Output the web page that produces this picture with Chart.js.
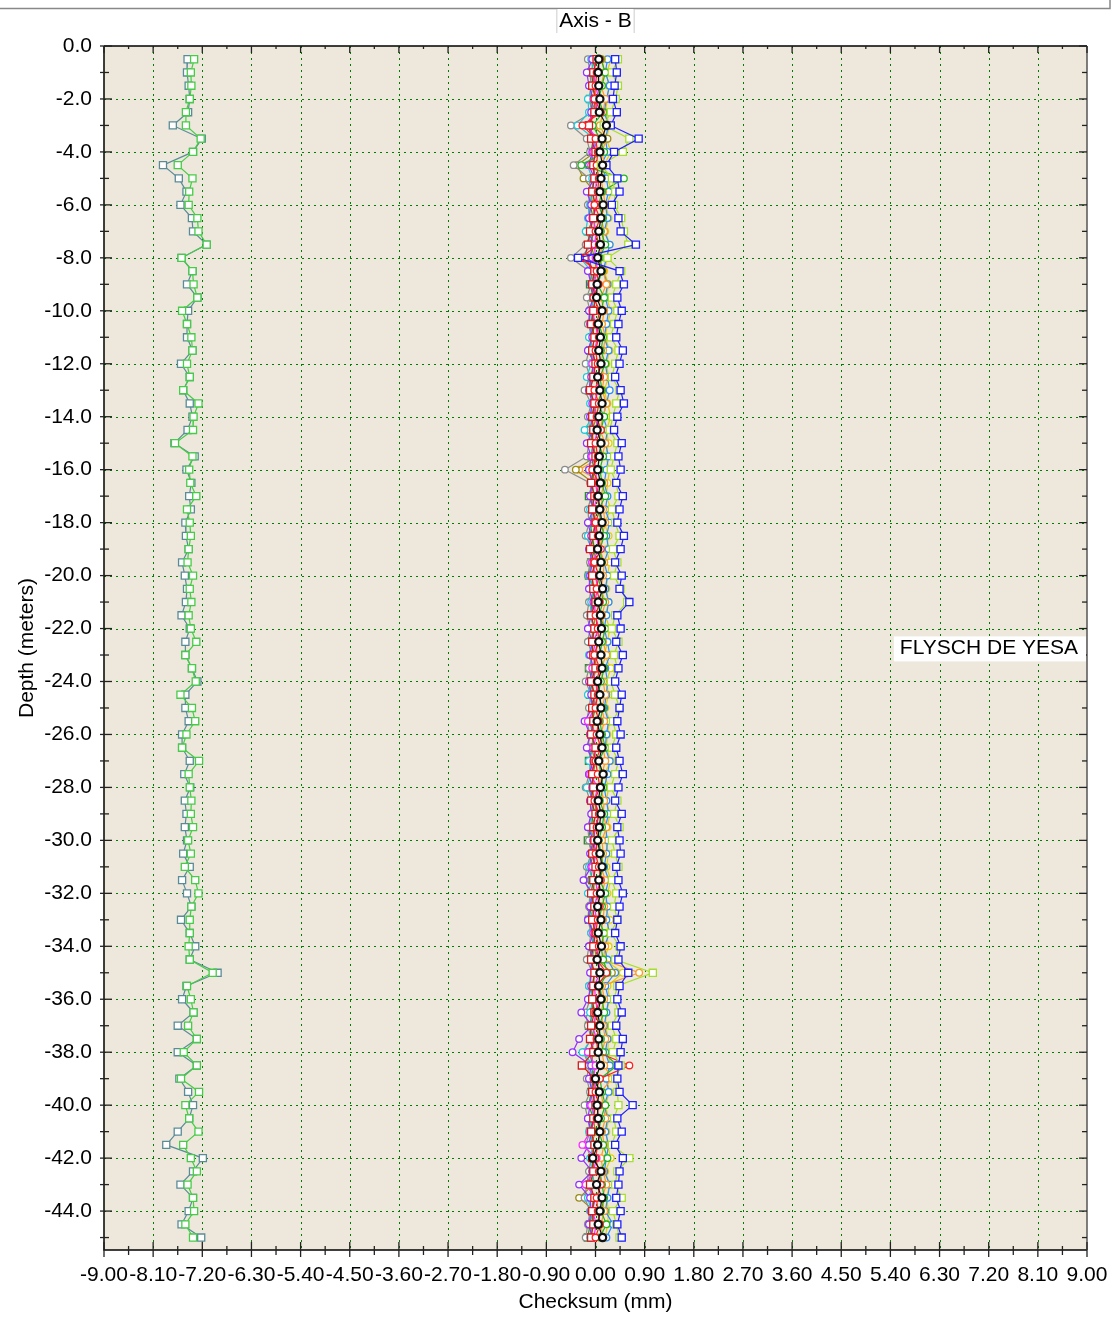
<!DOCTYPE html>
<html>
<head>
<meta charset="utf-8">
<title>Axis - B</title>
<script src="https://cdn.jsdelivr.net/npm/chart.js@4.4.1/dist/chart.umd.min.js"></script>
<style>
  html, body { margin: 0; padding: 0; background: #fff; }
  #wrap { position: relative; width: 1112px; height: 1317px; }
</style>
</head>
<body>
<div id="wrap"><canvas id="chart"></canvas></div>
<script>
// depth of every reading (m)
const depths = [
  -0.5, -1.0, -1.5, -2.0, -2.5, -3.0, -3.5, -4.0, -4.5, -5.0,
  -5.5, -6.0, -6.5, -7.0, -7.5, -8.0, -8.5, -9.0, -9.5, -10.0,
  -10.5, -11.0, -11.5, -12.0, -12.5, -13.0, -13.5, -14.0, -14.5, -15.0,
  -15.5, -16.0, -16.5, -17.0, -17.5, -18.0, -18.5, -19.0, -19.5, -20.0,
  -20.5, -21.0, -21.5, -22.0, -22.5, -23.0, -23.5, -24.0, -24.5, -25.0,
  -25.5, -26.0, -26.5, -27.0, -27.5, -28.0, -28.5, -29.0, -29.5, -30.0,
  -30.5, -31.0, -31.5, -32.0, -32.5, -33.0, -33.5, -34.0, -34.5, -35.0,
  -35.5, -36.0, -36.5, -37.0, -37.5, -38.0, -38.5, -39.0, -39.5, -40.0,
  -40.5, -41.0, -41.5, -42.0, -42.5, -43.0, -43.5, -44.0, -44.5, -45.0
];

// left pair of surveys (checksum, mm)
const leftTeal = [
  -7.47, -7.48, -7.45, -7.43, -7.46, -7.74, -7.21, -7.37, -7.92, -7.63,
  -7.49, -7.60, -7.39, -7.37, -7.12, -7.58, -7.38, -7.48, -7.29, -7.46,
  -7.48, -7.48, -7.38, -7.59, -7.43, -7.55, -7.43, -7.38, -7.47, -7.71,
  -7.34, -7.49, -7.40, -7.44, -7.41, -7.51, -7.50, -7.45, -7.57, -7.52,
  -7.48, -7.50, -7.58, -7.43, -7.51, -7.51, -7.39, -7.29, -7.51, -7.51,
  -7.45, -7.57, -7.57, -7.43, -7.53, -7.42, -7.52, -7.49, -7.52, -7.48,
  -7.55, -7.43, -7.57, -7.48, -7.40, -7.59, -7.43, -7.33, -7.43, -6.92,
  -7.49, -7.57, -7.36, -7.65, -7.30, -7.65, -7.30, -7.62, -7.46, -7.37,
  -7.44, -7.65, -7.86, -7.19, -7.37, -7.60, -7.37, -7.45, -7.58, -7.22
];
const leftGreen = [
  -7.35, -7.41, -7.40, -7.43, -7.50, -7.50, -7.23, -7.37, -7.65, -7.38,
  -7.44, -7.45, -7.29, -7.27, -7.12, -7.58, -7.38, -7.36, -7.29, -7.57,
  -7.48, -7.40, -7.38, -7.48, -7.43, -7.55, -7.27, -7.36, -7.37, -7.70,
  -7.38, -7.44, -7.42, -7.31, -7.48, -7.43, -7.41, -7.45, -7.47, -7.37,
  -7.43, -7.40, -7.45, -7.41, -7.31, -7.51, -7.39, -7.32, -7.60, -7.39,
  -7.33, -7.49, -7.57, -7.26, -7.45, -7.43, -7.40, -7.41, -7.37, -7.46,
  -7.41, -7.52, -7.33, -7.27, -7.40, -7.43, -7.43, -7.45, -7.43, -7.01,
  -7.48, -7.41, -7.36, -7.46, -7.30, -7.54, -7.30, -7.59, -7.26, -7.51,
  -7.44, -7.27, -7.55, -7.41, -7.30, -7.47, -7.37, -7.35, -7.51, -7.37
];

// central group of surveys (checksum, mm)
const sBlack = [
  0.06, 0.05, 0.06, 0.08, 0.07, 0.20, 0.12, 0.08, 0.13, 0.10,
  0.08, 0.14, 0.10, 0.06, 0.09, 0.04, 0.10, 0.03, 0.02, 0.12,
  0.05, 0.09, 0.06, 0.10, 0.04, 0.08, 0.12, 0.06, 0.03, 0.10,
  0.07, 0.04, 0.09, 0.05, 0.08, 0.12, 0.07, 0.04, 0.10, 0.08,
  0.13, 0.05, 0.09, 0.11, 0.06, 0.10, 0.12, 0.04, 0.08, 0.10,
  0.03, 0.08, 0.12, 0.06, 0.14, 0.09, 0.05, 0.10, 0.07, 0.04,
  0.08, 0.12, 0.06, 0.09, 0.04, 0.10, 0.05, 0.11, 0.03, 0.08,
  0.06, 0.10, 0.04, 0.08, 0.06, 0.05, 0.09, 0.00, 0.07, 0.03,
  0.05, 0.08, 0.04, -0.05, 0.10, 0.02, 0.12, 0.08, 0.05, 0.13
];
const sGrey = [
  -0.14, -0.10, -0.08, -0.12, -0.06, -0.45, -0.16, -0.10, -0.40, -0.12,
  -0.08, -0.14, -0.10, -0.06, -0.18, -0.45, -0.12, -0.08, -0.16, -0.10,
  -0.14, -0.06, -0.12, -0.18, -0.10, -0.20, -0.08, -0.14, -0.10, -0.12,
  -0.16, -0.56, -0.10, -0.08, -0.14, -0.12, -0.18, -0.06, -0.10, -0.14,
  -0.08, -0.12, -0.16, -0.10, -0.14, -0.06, -0.12, -0.18, -0.08, -0.12,
  -0.16, -0.10, -0.14, -0.08, -0.12, -0.18, -0.10, -0.06, -0.14, -0.12,
  -0.08, -0.16, -0.20, -0.10, -0.12, -0.14, -0.08, -0.12, -0.16, -0.06,
  -0.12, -0.10, -0.18, -0.14, -0.08, -0.22, -0.12, -0.16, -0.10, -0.20,
  -0.14, -0.10, -0.18, -0.08, -0.12, -0.16, -0.20, -0.10, -0.14, -0.18
];
const sCyan = [
  -0.08, -0.04, -0.02, -0.14, -0.12, -0.33, -0.02, -0.02, -0.15, -0.06,
  -0.04, -0.10, -0.14, -0.18, -0.06, -0.28, -0.08, -0.04, -0.02, -0.10,
  -0.06, -0.12, -0.04, -0.08, -0.16, -0.02, -0.10, -0.06, -0.20, -0.04,
  -0.08, -0.12, -0.06, -0.02, -0.10, -0.04, -0.14, -0.08, -0.06, -0.12,
  -0.04, -0.08, -0.10, -0.02, -0.06, -0.12, -0.04, -0.08, -0.14, -0.02,
  -0.10, -0.06, -0.04, -0.12, -0.08, -0.16, -0.02, -0.06, -0.10, -0.04,
  -0.08, -0.12, -0.06, -0.14, -0.04, -0.10, -0.08, -0.02, -0.06, -0.08,
  -0.12, -0.04, -0.10, -0.06, -0.08, -0.24, -0.04, -0.10, -0.06, -0.02,
  -0.08, -0.12, -0.04, -0.10, -0.06, -0.02, -0.14, -0.08, -0.04, -0.10
];
const sRed = [
  0.08, 0.02, 0.00, -0.02, 0.10, -0.24, 0.00, 0.04, 0.02, 0.06,
  0.04, -0.02, 0.08, 0.00, 0.06, -0.28, 0.02, 0.06, -0.04, 0.08,
  0.02, 0.06, 0.00, 0.04, 0.08, -0.02, 0.06, 0.02, 0.10, 0.00,
  0.04, -0.06, 0.06, 0.02, 0.08, 0.00, 0.04, 0.10, -0.02, 0.06,
  0.02, 0.08, 0.00, 0.04, 0.06, -0.02, 0.08, 0.02, 0.04, 0.00,
  0.06, 0.02, 0.10, 0.00, 0.04, 0.08, -0.02, 0.06, 0.02, 0.04,
  0.00, 0.06, 0.10, 0.02, 0.08, 0.04, 0.00, 0.06, 0.02, 0.20,
  0.04, 0.08, 0.00, 0.06, 0.02, 0.04, 0.62, 0.08, 0.00, 0.06,
  0.02, 0.08, 0.04, 0.00, 0.06, 0.10, 0.02, 0.04, 0.08, 0.00
];
const sRedSq = [
  0.02, -0.04, -0.06, 0.00, -0.02, -0.12, -0.08, 0.00, -0.04, -0.02,
  -0.06, 0.00, -0.04, -0.10, -0.14, -0.20, -0.02, -0.06, 0.00, -0.04,
  -0.08, -0.02, -0.06, 0.00, -0.04, -0.10, -0.02, -0.06, -0.04, -0.08,
  0.00, -0.04, -0.08, -0.02, -0.06, 0.00, -0.04, -0.10, -0.02, -0.06,
  -0.04, 0.00, -0.08, -0.02, -0.06, -0.04, 0.00, -0.08, -0.02, -0.06,
  -0.04, -0.08, 0.00, -0.02, -0.06, -0.04, -0.08, 0.00, -0.04, -0.02,
  -0.06, 0.00, -0.04, -0.08, -0.02, -0.06, 0.00, -0.04, -0.08, -0.02,
  -0.04, -0.06, -0.02, -0.08, -0.10, -0.04, -0.25, -0.02, -0.06, 0.00,
  -0.04, -0.08, -0.02, -0.06, -0.04, -0.10, -0.02, -0.06, -0.04, -0.08
];
const sMagenta = [
  0.02, -0.04, 0.00, 0.06, -0.02, -0.18, 0.04, -0.04, -0.08, 0.02,
  0.00, 0.04, -0.06, 0.02, -0.02, 0.00, 0.04, -0.04, 0.02, -0.06,
  0.00, 0.04, -0.02, -0.06, 0.02, 0.06, -0.04, 0.00, 0.04, -0.02,
  -0.06, 0.02, 0.00, 0.04, -0.04, -0.02, 0.02, 0.06, -0.06, 0.00,
  0.04, -0.02, 0.00, 0.06, -0.04, 0.02, -0.06, 0.00, 0.04, -0.02,
  -0.14, 0.02, -0.04, 0.00, -0.10, 0.04, -0.02, 0.06, 0.00, -0.04,
  0.02, -0.06, 0.00, 0.04, -0.02, 0.02, -0.04, 0.00, 0.06, 0.08,
  -0.02, 0.00, 0.04, -0.06, 0.02, -0.14, 0.00, -0.04, 0.02, -0.08,
  0.00, -0.10, -0.24, 0.02, -0.04, -0.18, 0.00, -0.06, 0.02, -0.04
];
const sPurple = [
  -0.06, -0.16, -0.12, -0.04, -0.08, -0.10, -0.04, -0.06, -0.12, -0.02,
  -0.16, -0.08, -0.12, -0.04, -0.10, -0.06, -0.14, -0.08, -0.04, -0.12,
  -0.10, -0.06, -0.14, -0.02, -0.08, -0.12, -0.06, -0.10, -0.04, -0.16,
  -0.08, -0.12, -0.06, -0.10, -0.04, -0.14, -0.08, -0.12, -0.06, -0.10,
  -0.12, -0.04, -0.08, -0.14, -0.06, -0.10, -0.04, -0.12, -0.08, -0.06,
  -0.20, -0.10, -0.16, -0.04, -0.12, -0.06, -0.10, -0.08, -0.14, -0.04,
  -0.10, -0.08, -0.22, -0.06, -0.10, -0.14, -0.04, -0.12, -0.06, -0.10,
  -0.08, -0.14, -0.26, -0.06, -0.30, -0.42, -0.08, -0.12, -0.06, -0.10,
  -0.14, -0.08, -0.12, -0.26, -0.06, -0.30, -0.10, -0.08, -0.12, -0.06
];
const sBlueSq = [
  0.36, 0.39, 0.35, 0.32, 0.39, 0.28, 0.79, 0.34, 0.20, 0.40,
  0.44, 0.30, 0.42, 0.46, 0.74, -0.32, 0.44, 0.52, 0.40, 0.48,
  0.42, 0.38, 0.50, 0.44, 0.36, 0.46, 0.52, 0.40, 0.34, 0.48,
  0.42, 0.46, 0.38, 0.50, 0.44, 0.40, 0.52, 0.46, 0.36, 0.48,
  0.44, 0.62, 0.40, 0.46, 0.38, 0.50, 0.42, 0.36, 0.48, 0.44,
  0.40, 0.46, 0.38, 0.44, 0.50, 0.42, 0.36, 0.48, 0.40, 0.44,
  0.46, 0.38, 0.42, 0.50, 0.44, 0.40, 0.36, 0.46, 0.42, 0.60,
  0.44, 0.40, 0.48, 0.38, 0.50, 0.46, 0.42, 0.40, 0.44, 0.68,
  0.40, 0.48, 0.36, 0.50, 0.44, 0.42, 0.38, 0.46, 0.40, 0.48
];
const sLimeSq = [
  0.41, 0.30, 0.41, 0.37, 0.28, 0.15, 0.62, 0.50, 0.10, 0.30,
  0.36, 0.34, 0.47, 0.52, 0.60, 0.22, 0.47, 0.38, 0.30, 0.40,
  0.34, 0.28, 0.42, 0.36, 0.30, 0.44, 0.38, 0.32, 0.26, 0.40,
  0.34, 0.28, 0.38, 0.42, 0.30, 0.36, 0.44, 0.32, 0.40, 0.34,
  0.46, 0.58, 0.36, 0.30, 0.42, 0.34, 0.40, 0.28, 0.36, 0.44,
  0.32, 0.38, 0.30, 0.42, 0.36, 0.28, 0.40, 0.34, 0.44, 0.30,
  0.36, 0.42, 0.30, 0.38, 0.34, 0.40, 0.28, 0.44, 0.36, 1.05,
  0.40, 0.34, 0.42, 0.30, 0.38, 0.32, 0.46, 0.36, 0.40, 0.42,
  0.34, 0.38, 0.30, 0.62, 0.40, 0.36, 0.48, 0.32, 0.38, 0.44
];
const sGreen = [
  0.10, 0.18, 0.12, 0.06, 0.14, -0.05, 0.08, 0.16, -0.26, 0.52,
  0.12, 0.06, 0.14, 0.10, 0.18, 0.08, 0.12, 0.04, 0.16, 0.10,
  0.06, 0.14, 0.10, 0.18, 0.08, 0.12, 0.04, 0.16, 0.10, 0.06,
  0.14, 0.08, 0.12, 0.18, 0.06, 0.10, 0.16, 0.08, 0.12, 0.04,
  0.10, 0.14, 0.06, 0.18, 0.12, 0.08, 0.16, 0.10, 0.04, 0.14,
  0.08, 0.12, 0.18, 0.06, 0.10, 0.14, 0.08, 0.16, 0.12, 0.06,
  0.10, 0.14, 0.08, 0.18, 0.12, 0.06, 0.16, 0.10, 0.14, 0.22,
  0.08, 0.12, 0.16, 0.06, 0.10, 0.14, 0.40, 0.08, 0.12, 0.18,
  0.10, 0.06, 0.14, 0.22, 0.08, 0.12, 0.16, 0.10, 0.20, 0.08
];
const sDkGreenSq = [
  -0.02, -0.08, -0.04, -0.10, -0.06, -0.12, -0.04, -0.08, -0.02, -0.04,
  -0.06, -0.10, -0.04, -0.14, -0.02, -0.12, -0.06, -0.10, -0.04, -0.08,
  -0.02, -0.06, -0.10, -0.04, -0.08, -0.12, -0.02, -0.06, -0.10, -0.04,
  -0.08, -0.02, -0.06, -0.12, -0.04, -0.10, -0.06, -0.02, -0.08, -0.12,
  -0.04, -0.06, -0.10, -0.02, -0.08, -0.04, -0.12, -0.06, -0.10, -0.02,
  -0.08, -0.04, -0.06, -0.12, -0.02, -0.10, -0.06, -0.04, -0.08, -0.14,
  -0.04, -0.10, -0.06, -0.02, -0.08, -0.12, -0.04, -0.06, -0.10, -0.02,
  -0.06, -0.08, -0.04, -0.12, -0.02, -0.10, -0.06, -0.04, -0.08, -0.12,
  -0.04, -0.10, -0.06, -0.02, -0.08, -0.12, -0.04, -0.06, -0.10, -0.14
];
const sOlive = [
  -0.04, 0.00, -0.06, 0.02, -0.08, -0.06, 0.22, 0.00, -0.34, -0.22,
  -0.02, -0.06, 0.00, -0.04, -0.08, -0.02, 0.02, -0.06, -0.04, 0.00,
  -0.08, -0.02, -0.06, 0.00, -0.04, -0.10, -0.02, 0.02, -0.06, -0.04,
  0.00, -0.36, -0.04, -0.08, -0.02, 0.00, -0.06, -0.04, 0.02, -0.08,
  -0.02, -0.06, 0.00, -0.04, -0.08, -0.02, 0.02, -0.06, -0.04, 0.00,
  -0.06, -0.02, -0.08, 0.00, -0.04, -0.06, -0.02, 0.02, -0.08, -0.04,
  0.00, -0.06, -0.02, -0.04, -0.08, 0.00, -0.06, -0.02, 0.02, 0.30,
  -0.04, -0.08, 0.00, -0.02, -0.06, -0.04, -0.08, 0.00, -0.02, -0.06,
  -0.04, 0.00, -0.08, -0.02, -0.06, -0.04, -0.30, -0.02, -0.06, -0.10
];
const sOrange = [
  0.12, 0.16, 0.10, 0.18, 0.14, 0.08, 0.20, 0.12, 0.16, 0.10,
  0.14, 0.18, 0.10, 0.16, 0.12, 0.08, 0.14, 0.20, 0.10, 0.16,
  0.12, 0.18, 0.14, 0.10, 0.16, 0.12, 0.20, 0.14, 0.08, 0.18,
  0.12, -0.30, 0.16, 0.10, 0.14, 0.18, 0.12, 0.08, 0.16, 0.14,
  0.10, 0.18, 0.12, 0.16, 0.14, 0.20, 0.10, 0.14, 0.18, 0.12,
  0.16, 0.10, 0.14, 0.18, 0.12, 0.08, 0.16, 0.14, 0.20, 0.12,
  0.14, 0.10, 0.18, 0.12, 0.16, 0.14, 0.10, 0.18, 0.14, 0.80,
  0.12, 0.16, 0.10, 0.14, 0.18, 0.12, 0.16, 0.30, 0.10, 0.14,
  0.18, 0.12, 0.16, 0.10, 0.14, 0.20, 0.12, 0.16, 0.10, 0.14
];
const sSky = [
  0.22, 0.18, 0.26, 0.20, 0.16, 0.24, 0.18, 0.22, 0.10, 0.20,
  0.24, 0.18, 0.22, 0.16, 0.26, 0.20, 0.14, 0.22, 0.18, 0.24,
  0.20, 0.16, 0.24, 0.18, 0.22, 0.26, 0.20, 0.14, 0.22, 0.18,
  0.24, 0.20, 0.16, 0.22, 0.18, 0.26, 0.20, 0.24, 0.16, 0.22,
  0.18, 0.24, 0.20, 0.16, 0.22, 0.26, 0.18, 0.22, 0.20, 0.16,
  0.24, 0.20, 0.18, 0.26, 0.22, 0.16, 0.20, 0.24, 0.18, 0.22,
  0.20, 0.16, 0.24, 0.18, 0.22, 0.20, 0.26, 0.16, 0.22, 0.36,
  0.18, 0.24, 0.20, 0.16, 0.22, 0.18, 0.26, 0.20, 0.24, 0.16,
  0.22, 0.18, 0.24, 0.20, 0.16, 0.26, 0.22, 0.18, 0.32, 0.20
];
const sYellow = [
  0.29, 0.20, 0.24, 0.22, 0.18, 0.26, 0.20, 0.28, 0.16, 0.22,
  0.30, 0.20, 0.24, 0.18, 0.26, 0.22, 0.16, 0.24, 0.20, 0.28,
  0.22, 0.18, 0.26, 0.20, 0.24, 0.16, 0.22, 0.28, 0.20, 0.24,
  0.18, 0.26, 0.22, 0.20, 0.28, 0.16, 0.24, 0.20, 0.26, 0.22,
  0.20, 0.24, 0.18, 0.26, 0.22, 0.16, 0.28, 0.20, 0.24, 0.18,
  0.26, 0.22, 0.20, 0.28, 0.16, 0.24, 0.20, 0.26, 0.22, 0.18,
  0.24, 0.20, 0.28, 0.22, 0.18, 0.26, 0.20, 0.24, 0.16, 0.50,
  0.22, 0.26, 0.20, 0.18, 0.24, 0.22, 0.28, 0.20, 0.26, 0.18,
  0.24, 0.20, 0.22, 0.28, 0.18, 0.26, 0.20, 0.24, 0.22, 0.18
];

// axis ticks
const xMajorTicks = [-9.0, -8.1, -7.2, -6.3, -5.4, -4.5, -3.6, -2.7, -1.8, -0.9, 0, 0.9, 1.8, 2.7, 3.6, 4.5, 5.4, 6.3, 7.2, 8.1, 9.0];
const xMinorTicks = [-8.55, -7.65, -6.75, -5.85, -4.95, -4.05, -3.15, -2.25, -1.35, -0.45, 0.45, 1.35, 2.25, 3.15, 4.05, 4.95, 5.85, 6.75, 7.65, 8.55];
const yMajorTicks = [0, -2, -4, -6, -8, -10, -12, -14, -16, -18, -20, -22, -24, -26, -28, -30, -32, -34, -36, -38, -40, -42, -44];
const yMinorTicks = [-1, -3, -5, -7, -9, -11, -13, -15, -17, -19, -21, -23, -25, -27, -29, -31, -33, -35, -37, -39, -41, -43, -45];

const FONT = '21px "Liberation Sans", Arial, Helvetica, sans-serif';
const BEIGE = "#eee8dc";
const GRID = "#007d00";

// [data, colour, marker] -- first entry ends up on top
const series = [
  [sBlack, "#111111", "circle"],
  [sBlueSq, "#1f1fff", "rect"],
  [sLimeSq, "#a6de2c", "rect"],
  [sRed, "#ff2020", "circle"],
  [sRedSq, "#d41a1a", "rect"],
  [sGreen, "#22b522", "circle"],
  [sMagenta, "#ff28ff", "circle"],
  [sPurple, "#9232ff", "circle"],
  [sCyan, "#22c8dc", "circle"],
  [sGrey, "#8c8c8c", "circle"],
  [sDkGreenSq, "#2c8a2c", "rect"],
  [sOlive, "#998a12", "circle"],
  [sOrange, "#ff9a22", "circle"],
  [sSky, "#2a8cff", "circle"],
  [sYellow, "#e6cf00", "circle"],
  [leftGreen, "#46cc46", "rect"],
  [leftTeal, "#5a8c98", "rect"]
];

function toPoints(vals) {
  return vals.map((v, i) => ({ x: v, y: depths[i] }));
}

const datasets = series.map(([vals, color, marker]) => {
  const black = vals === sBlack;
  return {
    data: toPoints(vals),
    borderColor: color,
    borderWidth: 1.2,
    pointStyle: marker,
    pointRadius: marker === "rect" ? 5 : (black ? 3.6 : 3.3),
    pointBorderWidth: black ? 2.2 : 1.3,
    pointBorderColor: color,
    pointBackgroundColor: "#ffffff",
    fill: false,
    tension: 0
  };
});

const frame = {
  id: "frame",
  beforeDraw(chart) {
    const { ctx, chartArea: a } = chart;
    ctx.save();
    ctx.fillStyle = "#ffffff";
    ctx.fillRect(0, 0, chart.width, chart.height);
    ctx.fillStyle = BEIGE;
    ctx.fillRect(a.left, a.top, a.right - a.left, a.bottom - a.top);
    ctx.restore();
  },
  beforeDatasetsDraw(chart) {
    const { ctx, chartArea: a, scales: { x, y } } = chart;
    ctx.save();
    ctx.strokeStyle = GRID;
    ctx.lineWidth = 1;
    ctx.setLineDash([2, 4]);
    xMajorTicks.forEach(v => {
      const px = Math.round(x.getPixelForValue(v)) + 0.5;
      if (px < a.left + 2 || px > a.right - 2) return;
      ctx.beginPath(); ctx.moveTo(px, a.top); ctx.lineTo(px, a.bottom); ctx.stroke();
    });
    yMajorTicks.forEach(v => {
      const py = Math.round(y.getPixelForValue(v)) + 0.5;
      if (py < a.top + 2 || py > a.bottom - 2) return;
      ctx.beginPath(); ctx.moveTo(a.left, py); ctx.lineTo(a.right, py); ctx.stroke();
    });
    ctx.restore();
  },
  afterDatasetsDraw(chart) {
    const { ctx, chartArea: a, scales: { x, y } } = chart;
    ctx.save();

    // plot border
    ctx.setLineDash([]);
    ctx.lineWidth = 1.5;
    ctx.strokeStyle = "#000";
    ctx.beginPath();
    ctx.moveTo(a.left, a.top); ctx.lineTo(a.left, a.bottom); ctx.lineTo(a.right, a.bottom);
    ctx.moveTo(a.left, a.top); ctx.lineTo(a.right, a.top);
    ctx.stroke();
    ctx.strokeStyle = "#555";
    ctx.beginPath(); ctx.moveTo(a.right, a.top); ctx.lineTo(a.right, a.bottom); ctx.stroke();

    // tick marks
    ctx.strokeStyle = "#222";
    ctx.lineWidth = 1.3;
    const tickX = (v, inLen, outLen) => {
      const px = x.getPixelForValue(v);
      ctx.beginPath(); ctx.moveTo(px, a.bottom - inLen); ctx.lineTo(px, a.bottom + outLen); ctx.stroke();
      ctx.beginPath(); ctx.moveTo(px, a.top); ctx.lineTo(px, a.top + inLen - 1); ctx.stroke();
    };
    const tickY = (v, inLen, outLen) => {
      const py = y.getPixelForValue(v);
      ctx.beginPath(); ctx.moveTo(a.left - outLen, py); ctx.lineTo(a.left + inLen, py); ctx.stroke();
      ctx.beginPath(); ctx.moveTo(a.right - inLen, py); ctx.lineTo(a.right, py); ctx.stroke();
    };
    xMajorTicks.forEach(v => tickX(v, 8, 7));
    xMinorTicks.forEach(v => tickX(v, 4, 5));
    yMajorTicks.forEach(v => tickY(v, 8, 4));
    yMinorTicks.forEach(v => tickY(v, 5, 4));

    // tick labels
    ctx.fillStyle = "#000";
    ctx.font = FONT;
    ctx.textBaseline = "middle";
    ctx.textAlign = "center";
    xMajorTicks.forEach(v => ctx.fillText(v.toFixed(2), x.getPixelForValue(v), a.bottom + 25));
    ctx.textAlign = "right";
    yMajorTicks.forEach(v => ctx.fillText(v.toFixed(1), a.left - 12, y.getPixelForValue(v)));

    // axis titles
    ctx.textAlign = "center";
    ctx.fillText("Checksum (mm)", (a.left + a.right) / 2, a.bottom + 52);
    ctx.save();
    ctx.translate(27, (a.top + a.bottom) / 2);
    ctx.rotate(-Math.PI / 2);
    ctx.fillText("Depth (meters)", 0, 0);
    ctx.restore();

    // frame line and title box
    ctx.strokeStyle = "#888";
    ctx.lineWidth = 1.5;
    ctx.beginPath(); ctx.moveTo(0, 8.5); ctx.lineTo(chart.width - 2, 8.5); ctx.lineTo(chart.width - 2, 0); ctx.stroke();
    const cx = (a.left + a.right) / 2;
    const tw = ctx.measureText("Axis - B").width + 4;
    ctx.fillStyle = "#fff";
    ctx.fillRect(cx - tw / 2, 9, tw, 24);
    ctx.strokeStyle = "#ccc";
    ctx.lineWidth = 1;
    ctx.beginPath();
    ctx.moveTo(cx - tw / 2 - 0.5, 9); ctx.lineTo(cx - tw / 2 - 0.5, 33);
    ctx.moveTo(cx + tw / 2 + 0.5, 9); ctx.lineTo(cx + tw / 2 + 0.5, 33);
    ctx.stroke();
    ctx.fillStyle = "#000";
    ctx.fillText("Axis - B", cx, 21);

    // formation note
    const label = "FLYSCH DE YESA";
    const ly = y.getPixelForValue(-22.75);
    const lw = ctx.measureText(label).width;
    const tx = a.right - 9 - lw;
    ctx.fillStyle = "#fff";
    ctx.fillRect(tx - 6, ly - 12, a.right - 1 - (tx - 6), 25);
    ctx.fillStyle = "#000";
    ctx.textAlign = "left";
    ctx.fillText(label, tx, ly);

    ctx.restore();
  }
};

new Chart(document.getElementById("chart"), {
  type: "line",
  data: { datasets },
  options: {
    responsive: true,
    maintainAspectRatio: false,
    animation: false,
    events: [],
    layout: { padding: { left: 0, right: 25, top: 46, bottom: 0 } },
    plugins: { legend: { display: false }, title: { display: false }, tooltip: { enabled: false } },
    scales: {
      x: {
        type: "linear",
        min: -9,
        max: 9,
        grid: { display: false },
        border: { display: false },
        ticks: { display: false },
        afterFit: s => { s.height = 67; }
      },
      y: {
        type: "linear",
        min: -45.47,
        max: 0,
        grid: { display: false },
        border: { display: false },
        ticks: { display: false },
        afterFit: s => { s.width = 104; }
      }
    }
  },
  plugins: [frame]
});
</script>
</body>
</html>
